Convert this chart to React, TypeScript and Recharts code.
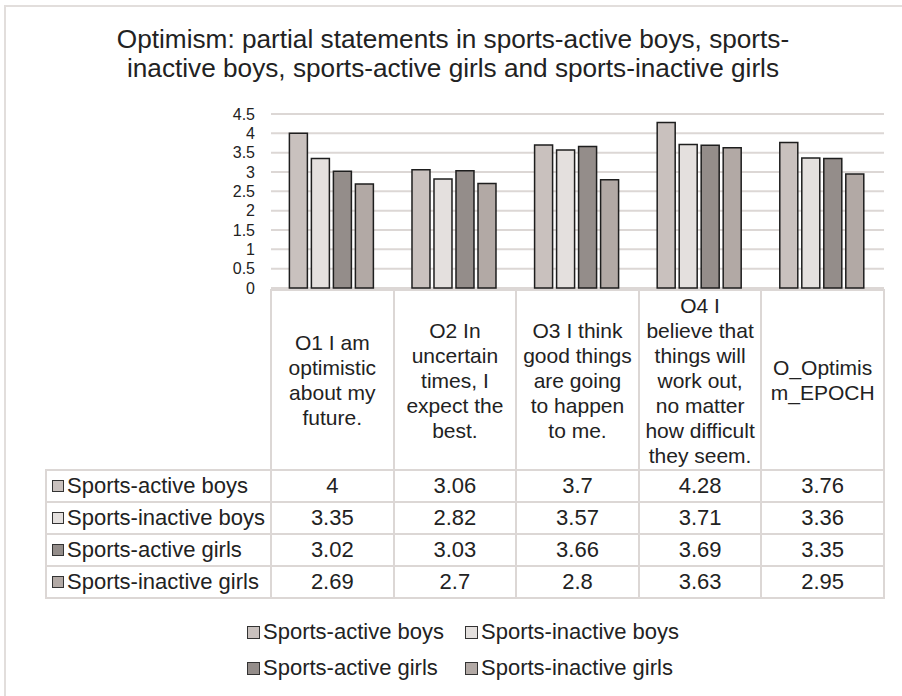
import { BarChart, Bar, XAxis, YAxis, CartesianGrid } from "recharts";

const categories = [
  "O1 I am optimistic about my future.",
  "O2 In uncertain times, I expect the best.",
  "O3 I think good things are going to happen to me.",
  "O4 I believe that things will work out, no matter how difficult they seem.",
  "O_Optimism_EPOCH",
];

// header text broken the way the picture breaks it
const headerLines = [
  ["O1 I am", "optimistic", "about my", "future."],
  ["O2 In", "uncertain", "times, I", "expect the", "best."],
  ["O3 I think", "good things", "are going", "to happen", "to me."],
  ["O4 I", "believe that", "things will", "work out,", "no matter", "how difficult", "they seem."],
  ["O_Optimis", "m_EPOCH"],
];

const groups = [
  "Sports-active boys",
  "Sports-inactive boys",
  "Sports-active girls",
  "Sports-inactive girls",
];

const activeBoys = [4, 3.06, 3.7, 4.28, 3.76];
const inactiveBoys = [3.35, 2.82, 3.57, 3.71, 3.36];
const activeGirls = [3.02, 3.03, 3.66, 3.69, 3.35];
const inactiveGirls = [2.69, 2.7, 2.8, 3.63, 2.95];

const yTicks = [0, 0.5, 1, 1.5, 2, 2.5, 3, 3.5, 4, 4.5];

const seriesValues = [activeBoys, inactiveBoys, activeGirls, inactiveGirls];
const keys = ["activeBoys", "inactiveBoys", "activeGirls", "inactiveGirls"];
const fills = ["#c9c1be", "#e4e0de", "#948d8a", "#b2a9a5"];

const data = categories.map((c, i) => ({
  category: c,
  activeBoys: activeBoys[i],
  inactiveBoys: inactiveBoys[i],
  activeGirls: activeGirls[i],
  inactiveGirls: inactiveGirls[i],
}));

const FONT = '"Liberation Sans", Arial, sans-serif';
const TEXT = "#222";
const LINE = "#dcd7d5";

// plot box
const W = 902;
const plotLeft = 271;
const plotRight = 884;
const plotTop = 114;
const plotBottom = 288;
const chartH = 300;
const colW = (plotRight - plotLeft) / categories.length;

const headTop = 290;
const rowTops = [470, 502, 534, 566, 598];
const labelLeft = 46;

function Marker({ color, size }: { color: string; size: number }) {
  return (
    <span
      style={{
        display: "inline-block",
        width: size,
        height: size,
        boxSizing: "border-box",
        background: color,
        border: "1.5px solid #333",
      }}
    />
  );
}

function Table() {
  const lines: JSX.Element[] = [];
  lines.push(
    <div key="ht" style={{ position: "absolute", left: plotLeft - 1, top: headTop - 1, width: plotRight - plotLeft + 2, height: 2, background: LINE }} />
  );
  rowTops.forEach((y, i) =>
    lines.push(
      <div key={"h" + i} style={{ position: "absolute", left: labelLeft - 1, top: y - 1, width: plotRight - labelLeft + 2, height: 2, background: LINE }} />
    )
  );
  lines.push(
    <div key="vl" style={{ position: "absolute", left: labelLeft - 1, top: rowTops[0] - 1, width: 2, height: rowTops[4] - rowTops[0] + 2, background: LINE }} />
  );
  for (let i = 0; i <= categories.length; i++) {
    lines.push(
      <div key={"v" + i} style={{ position: "absolute", left: plotLeft + i * colW - 1, top: headTop - 1, width: 2, height: rowTops[4] - headTop + 2, background: LINE }} />
    );
  }

  return (
    <>
      {headerLines.map((ls, i) => (
        <div
          key={"hd" + i}
          style={{
            position: "absolute",
            left: plotLeft + i * colW,
            top: headTop,
            width: colW,
            height: rowTops[0] - headTop,
            display: "flex",
            alignItems: "center",
            justifyContent: "center",
            textAlign: "center",
            fontSize: 21,
            lineHeight: "25px",
            color: TEXT,
          }}
        >
          <div>
            {ls.map((l, j) => (
              <div key={j} style={{ whiteSpace: "nowrap" }}>{l}</div>
            ))}
          </div>
        </div>
      ))}
      {groups.map((g, r) => (
        <div key={"r" + r}>
          <div
            style={{
              position: "absolute",
              left: labelLeft + 6,
              top: rowTops[r],
              height: rowTops[r + 1] - rowTops[r],
              display: "flex",
              alignItems: "center",
              fontSize: 22,
              color: TEXT,
              whiteSpace: "nowrap",
            }}
          >
            <Marker color={fills[r]} size={12} />
            <span style={{ marginLeft: 3 }}>{g}</span>
          </div>
          {seriesValues[r].map((v, c) => (
            <div
              key={c}
              style={{
                position: "absolute",
                left: plotLeft + c * colW,
                top: rowTops[r],
                width: colW,
                height: rowTops[r + 1] - rowTops[r],
                display: "flex",
                alignItems: "center",
                justifyContent: "center",
                fontSize: 22,
                color: TEXT,
              }}
            >
              {String(v)}
            </div>
          ))}
        </div>
      ))}
      {lines}
    </>
  );
}

function Legend() {
  const cols = [247, 465];
  const rows = [632, 668];
  return (
    <>
      {groups.map((g, i) => (
        <div
          key={g}
          style={{
            position: "absolute",
            left: cols[i % 2],
            top: rows[Math.floor(i / 2)] - 14,
            height: 28,
            display: "flex",
            alignItems: "center",
            fontSize: 22,
            color: TEXT,
            whiteSpace: "nowrap",
          }}
        >
          <Marker color={fills[i]} size={13} />
          <span style={{ marginLeft: 3 }}>{g}</span>
        </div>
      ))}
    </>
  );
}

export default function App() {
  return (
    <div
      style={{
        position: "absolute",
        left: 0,
        top: 0,
        width: W,
        height: 696,
        background: "#fff",
        overflow: "hidden",
        fontFamily: FONT,
      }}
    >
      {/* frame */}
      <div
        style={{
          position: "absolute",
          left: 4,
          top: 5,
          width: W + 10,
          height: 700,
          boxSizing: "border-box",
          borderLeft: "2px solid #e2dedc",
          borderTop: "2px solid #e2dedc",
        }}
      />
      <div
        style={{
          position: "absolute",
          left: 2,
          top: 25,
          width: W,
          textAlign: "center",
          fontSize: 26.2,
          lineHeight: "29px",
          color: TEXT,
        }}
      >
        <div>Optimism: partial statements in sports-active boys, sports-</div>
        <div>inactive boys, sports-active girls and sports-inactive girls</div>
      </div>

      <div style={{ position: "absolute", left: 0, top: 0 }}>
        <BarChart
          width={W}
          height={chartH}
          data={data}
          margin={{ top: plotTop, right: W - plotRight, left: 0, bottom: chartH - plotBottom }}
          barCategoryGap="15%"
          barGap={4}
        >
          <CartesianGrid vertical={false} stroke={LINE} strokeWidth={2} />
          <XAxis dataKey="category" hide />
          <YAxis
            width={plotLeft}
            domain={[0, 4.5]}
            ticks={yTicks}
            axisLine={false}
            tickLine={false}
            tickSize={0}
            tickMargin={16}
            interval={0}
            tick={{ fill: TEXT, fontSize: 16, fontFamily: FONT }}
          />
          {keys.map((k, i) => (
            <Bar
              key={k}
              dataKey={k}
              name={groups[i]}
              fill={fills[i]}
              stroke="#1e1e1e"
              strokeWidth={1.5}
              isAnimationActive={false}
            />
          ))}
        </BarChart>
      </div>

      <Table />
      <Legend />
    </div>
  );
}
